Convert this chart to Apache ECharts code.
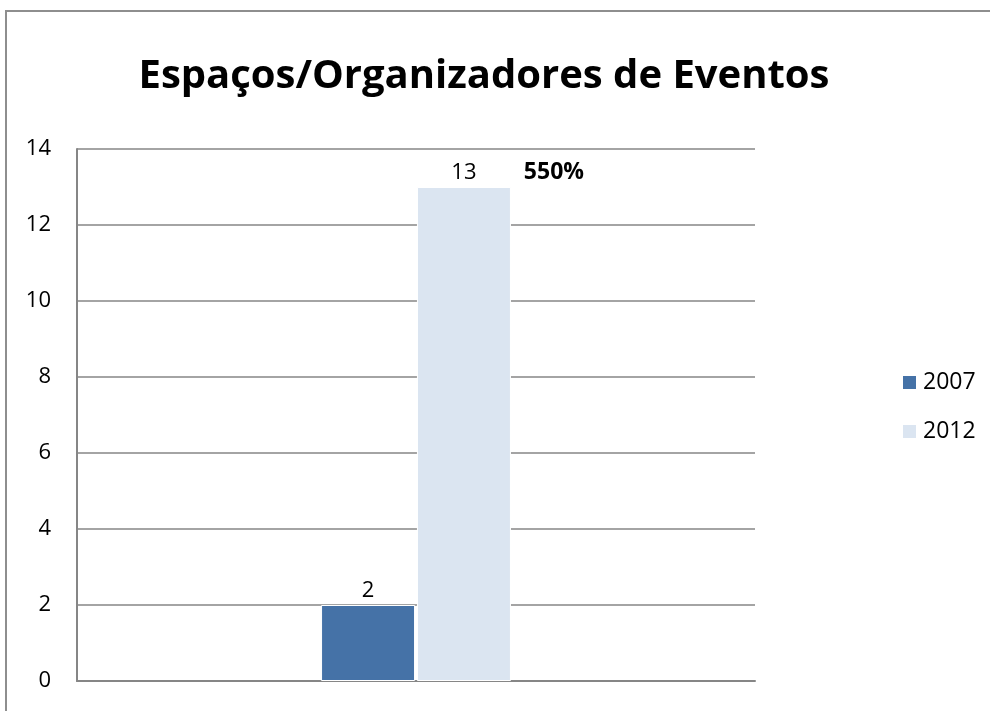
<!DOCTYPE html>
<html><head><meta charset="utf-8">
<script src="https://cdn.jsdelivr.net/npm/echarts@6/dist/echarts.min.js"></script>
<style>html,body{margin:0;padding:0;background:#fff}#c{width:990px;height:711px}</style>
</head><body><div id="c"></div>
<script>
const categories = [''];
const seriesNames = ['2007', '2012'];
const values2007 = [2];
const values2012 = [13];
const growthLabel = '550%';
const yTicks = [0, 2, 4, 6, 8, 10, 12, 14];

const chart = echarts.init(document.getElementById('c'));
const font = '"Open Sans", "Noto Sans", sans-serif';
chart.setOption({
  animation: false,
  backgroundColor: '#fff',
  title: {
    text: 'Espaços/Organizadores de Eventos',
    left: 479, top: 52, textAlign: 'center',
    textStyle: { fontFamily: font, fontWeight: 'bold', fontSize: 40, color: '#000' }
  },
  graphic: [{
    type: 'rect', silent: true,
    shape: { x: 6, y: 11, width: 1100, height: 800 },
    style: { fill: 'none', stroke: '#8e8e8e', lineWidth: 2 }
  }],
  legend: {
    orient: 'vertical', left: 896, top: 366, itemGap: 26,
    itemWidth: 15, itemHeight: 15,
    icon: 'rect',
    textStyle: { fontFamily: font, fontSize: 23, color: '#000', padding: [0, 0, 0, 1] },
    data: seriesNames
  },
  grid: { left: 77, right: 235, top: 149, bottom: 30, containLabel: false },
  xAxis: {
    type: 'category', data: categories,
    axisLine: { lineStyle: { color: '#868686', width: 2 } },
    axisTick: { show: false }, axisLabel: { show: false }
  },
  yAxis: {
    type: 'value', min: yTicks[0], max: yTicks[yTicks.length - 1], interval: 2,
    axisLine: { show: true, lineStyle: { color: '#868686', width: 2 } },
    axisTick: { show: false },
    axisLabel: { margin: 26, fontFamily: font, fontSize: 22, color: '#000' },
    splitLine: { lineStyle: { color: '#868686', width: 1.5 } }
  },
  series: [{
    name: seriesNames[0], type: 'bar', data: values2007,
    barWidth: 94, barGap: '2%',
    itemStyle: { color: '#4572A7', borderColor: '#fff', borderWidth: 1 },
    label: { show: true, position: 'top', distance: 3, fontFamily: font, fontSize: 22, color: '#000' }
  }, {
    name: seriesNames[1], type: 'bar', data: values2012,
    barWidth: 94,
    itemStyle: { color: '#DBE5F1', borderColor: '#fff', borderWidth: 1 },
    label: { show: true, position: 'top', distance: 3, fontFamily: font, fontSize: 22, color: '#000' },
    markPoint: {
      symbolSize: 0,
      data: [{ coord: [0, values2012[0]], value: growthLabel }],
      label: {
        show: true, formatter: growthLabel, offset: [90, -15],
        fontFamily: font, fontSize: 23, fontWeight: 'bold', color: '#000'
      }
    }
  }]
});
</script></body></html>
